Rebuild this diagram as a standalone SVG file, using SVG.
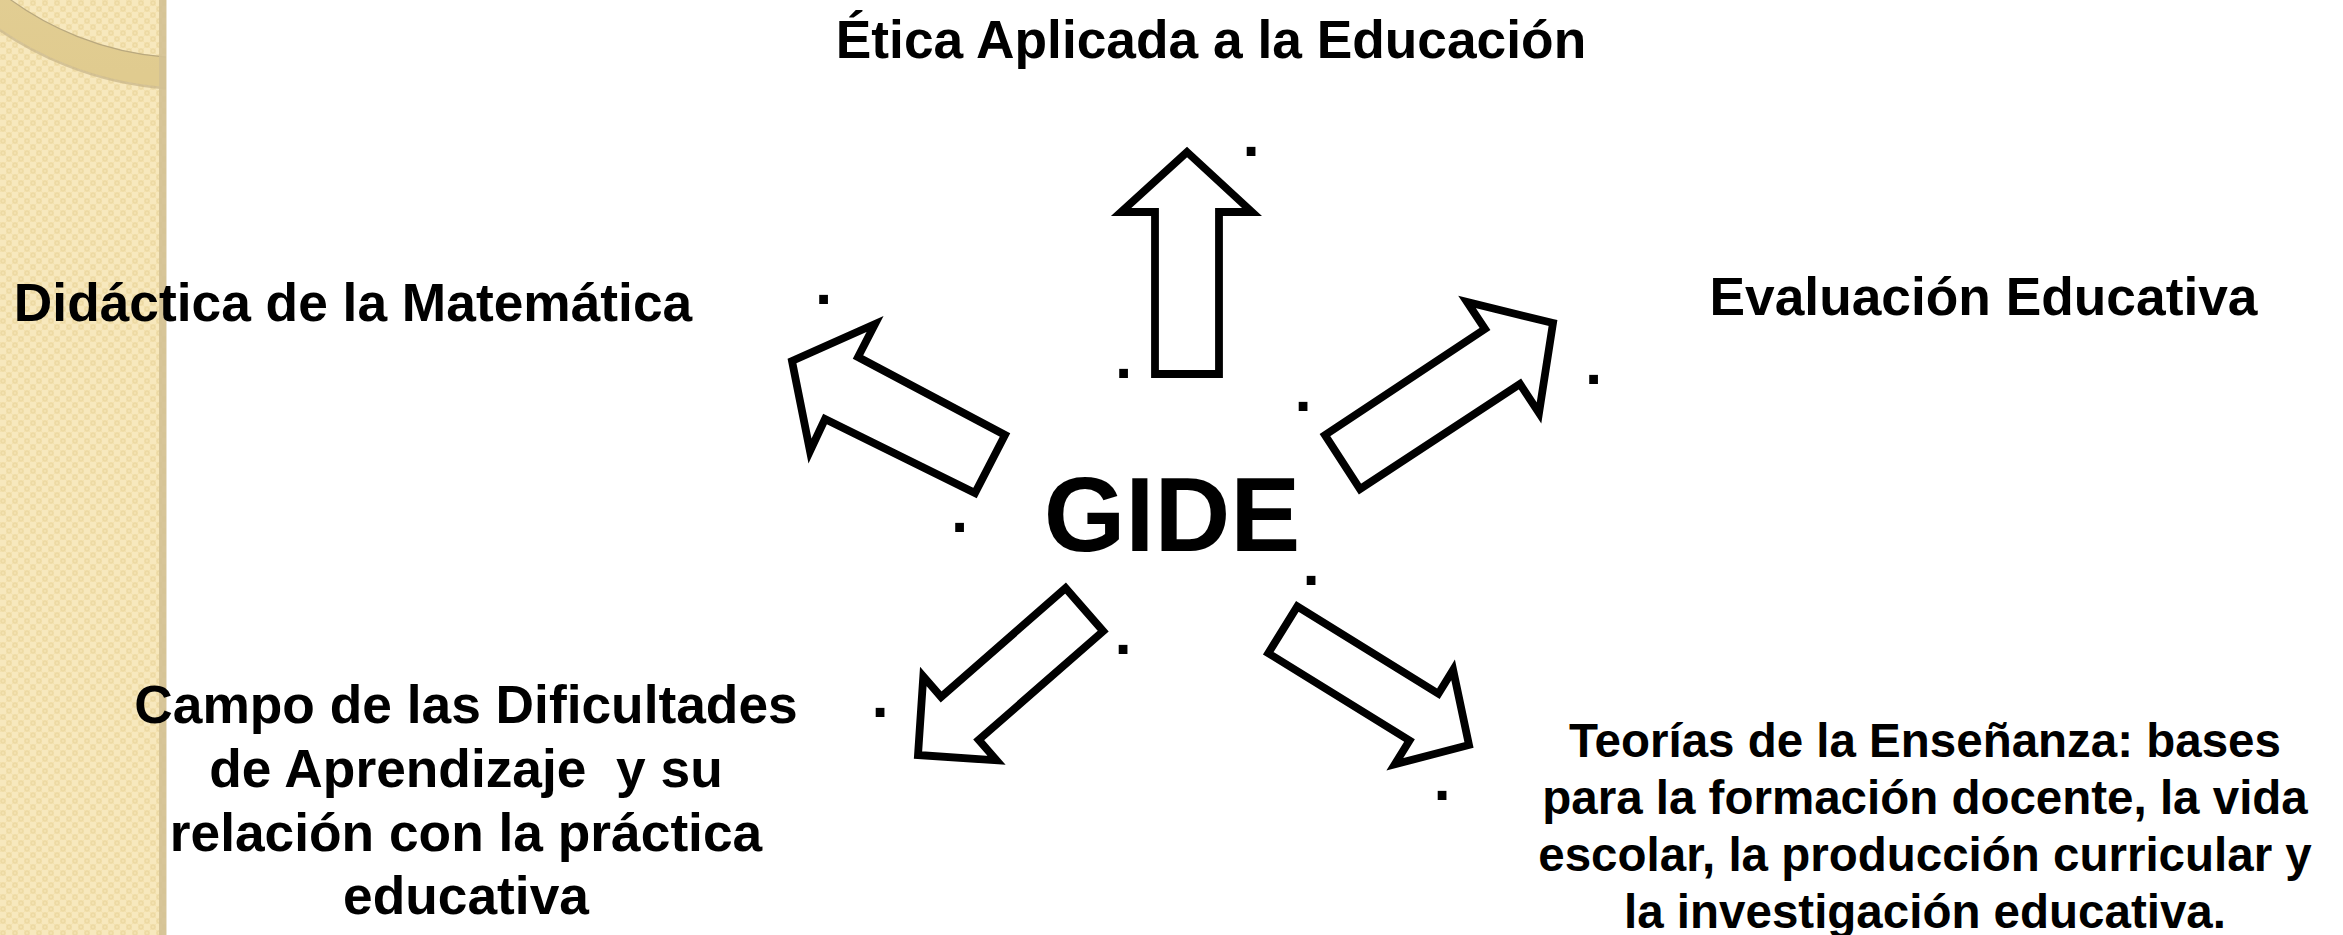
<svg xmlns="http://www.w3.org/2000/svg" width="2343" height="935" viewBox="0 0 2343 935">
<style>
.lbl{font-family:"Liberation Sans",Arial,sans-serif;font-weight:bold;fill:#000}
.t53{font-size:53.3px}
.t47{font-size:47.5px}
.dot{font-family:"Liberation Sans",Arial,sans-serif;font-weight:bold;font-size:62px;fill:#000;text-anchor:middle}
.arrow{fill:#fff;stroke:#000;stroke-width:7.8;stroke-linejoin:miter;stroke-miterlimit:10}
</style>
<defs>
<pattern id="tex" width="12" height="12" patternUnits="userSpaceOnUse">
<rect width="12" height="12" fill="#f3e1af"/>
<rect width="6" height="6" fill="#f7e8bd"/>
<rect x="6" y="6" width="6" height="6" fill="#f7e8bd"/>
<circle cx="9" cy="3" r="2" fill="none" stroke="#e8d39a" stroke-width="0.8"/>
<circle cx="3" cy="9" r="2" fill="none" stroke="#e8d39a" stroke-width="0.8"/>
</pattern>
<linearGradient id="band" x1="0" y1="0" x2="0" y2="1">
<stop offset="0" stop-color="#eddcab"/>
<stop offset="1" stop-color="#e0cb8f"/>
</linearGradient>
<clipPath id="panelClip"><rect x="0" y="0" width="166" height="935"/></clipPath>
</defs>
<rect width="2343" height="935" fill="#fff"/>
<g id="panel">
<rect x="0" y="0" width="166" height="935" fill="url(#tex)"/>
<g clip-path="url(#panelClip)">
<circle cx="190" cy="-247" r="320" fill="none" stroke="url(#band)" stroke-width="30"/>
<circle cx="190" cy="-247" r="305" fill="none" stroke="#b9a87e" stroke-width="1.2"/>
<circle cx="190" cy="-247" r="336" fill="none" stroke="#c6b487" stroke-width="2.5" opacity="0.7"/>
</g>
<rect x="159" y="0" width="7.5" height="935" fill="#d3c194" opacity="0.9"/>
</g>
<g id="connectors">
<polygon class="arrow" points="1187,152 1252,212 1219,212 1219,374 1155,374 1155,212 1121,212"/>
<polygon class="arrow" points="792,361 875,324 858,357 1005,435 975,493 825,419 810,451"/>
<polygon class="arrow" points="1553,323 1467,302 1485,329 1325,435 1360,489 1520,384 1539,413"/>
<polygon class="arrow" points="918,755 923.3,676.5 941.1,696.9 1065.6,588.1 1103.2,631.1 978.7,739.9 996.5,760.3"/>
<polygon class="arrow" points="1469,745 1453.1,669.9 1438.4,693.7 1297.3,606.4 1268.3,653.2 1409.5,740.5 1394.8,764.3"/>
</g>
<g id="dots">
<text class="dot" x="1251" y="156">.</text>
<text class="dot" x="1123.5" y="378">.</text>
<text class="dot" x="823.5" y="304">.</text>
<text class="dot" x="959.5" y="532">.</text>
<text class="dot" x="1303" y="411">.</text>
<text class="dot" x="1593.5" y="384">.</text>
<text class="dot" x="1311" y="585">.</text>
<text class="dot" x="1123" y="654">.</text>
<text class="dot" x="880" y="717">.</text>
<text class="dot" x="1442" y="800">.</text>
</g>
<g id="gide">
<text class="lbl" x="1172" y="551" font-size="105" text-anchor="middle">GIDE</text>
</g>
<g id="etica">
<text class="lbl t53" x="1211" y="58" text-anchor="middle">Ética Aplicada a la Educación</text>
</g>
<g id="didactica">
<text class="lbl t53" x="353" y="321" text-anchor="middle">Didáctica de la Matemática</text>
</g>
<g id="evaluacion">
<text class="lbl t53" x="1983.5" y="315" text-anchor="middle">Evaluación Educativa</text>
</g>
<g id="campo">
<text class="lbl t53" text-anchor="middle" xml:space="preserve"><tspan x="466" y="723">Campo de las Dificultades</tspan><tspan x="466" y="787">de Aprendizaje  y su</tspan><tspan x="466" y="851">relación con la práctica</tspan><tspan x="466" y="914">educativa</tspan></text>
</g>
<g id="teorias">
<text class="lbl t47" text-anchor="middle"><tspan x="1925" y="757">Teorías de la Enseñanza: bases</tspan><tspan x="1925" y="814">para la formación docente, la vida</tspan><tspan x="1925" y="871">escolar, la producción curricular y</tspan><tspan x="1925" y="928">la investigación educativa.</tspan></text>
</g>
</svg>
